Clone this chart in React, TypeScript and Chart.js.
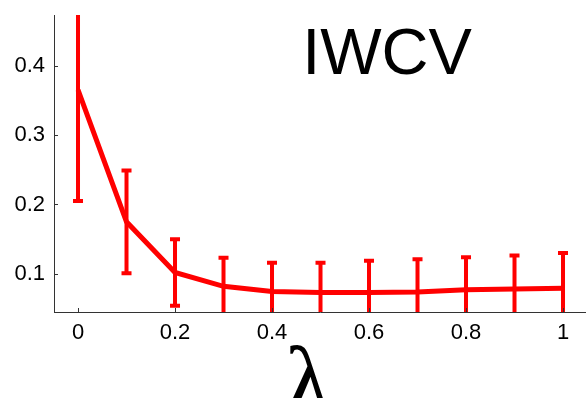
import React, { useEffect, useRef } from 'react';
import { Chart, registerables } from 'chart.js';

Chart.register(...registerables);

// ---- data ----
const lambdas = [0, 0.1, 0.2, 0.3, 0.4, 0.5, 0.6, 0.7, 0.8, 0.9, 1.0];
const means = [0.365, 0.175, 0.102, 0.082, 0.0745, 0.073, 0.073, 0.074, 0.077, 0.078, 0.0794];
const errors = [0.16, 0.074, 0.048, 0.041, 0.0415, 0.043, 0.0457, 0.047, 0.047, 0.0484, 0.0506];
const xTicks = [0, 0.2, 0.4, 0.6, 0.8, 1];
const xTickLabels = ['0', '0.2', '0.4', '0.6', '0.8', '1'];
const yTicks = [0.1, 0.2, 0.3, 0.4];
const yTickLabels = ['0.1', '0.2', '0.3', '0.4'];
const titleText = 'IWCV';
const xLabel = 'λ';

const RED = '#ff0000';
const AXIS = '#333333';
const SANS = '"Liberation Sans", Arial, sans-serif';
const SERIF = '"Liberation Serif", "Times New Roman", serif';

const errorBarPlugin = {
  id: 'errorBars',
  afterDatasetsDraw(chart: any) {
    const { ctx, chartArea, scales } = chart;
    const x = scales.x;
    const y = scales.y;
    ctx.save();
    ctx.beginPath();
    ctx.rect(chartArea.left, chartArea.top, chartArea.right - chartArea.left, chartArea.bottom - chartArea.top);
    ctx.clip();
    ctx.strokeStyle = RED;
    ctx.lineWidth = 4;
    ctx.lineCap = 'butt';
    lambdas.forEach((l, i) => {
      const px = x.getPixelForValue(l);
      const top = y.getPixelForValue(means[i] + errors[i]);
      const bot = y.getPixelForValue(means[i] - errors[i]);
      ctx.beginPath();
      ctx.moveTo(px, top);
      ctx.lineTo(px, bot);
      ctx.moveTo(px - 5, top);
      ctx.lineTo(px + 5, top);
      ctx.moveTo(px - 5, bot);
      ctx.lineTo(px + 5, bot);
      ctx.stroke();
    });
    ctx.restore();
  },
};

const decorPlugin = {
  id: 'decor',
  afterDraw(chart: any) {
    const { ctx, chartArea, scales } = chart;
    const x = scales.x;
    const y = scales.y;
    ctx.save();
    // inward tick marks
    ctx.strokeStyle = AXIS;
    ctx.lineWidth = 1;
    ctx.beginPath();
    yTicks.forEach((v) => {
      const py = Math.round(y.getPixelForValue(v)) + 0.5;
      ctx.moveTo(chartArea.left, py);
      ctx.lineTo(chartArea.left + 4, py);
    });
    xTicks.forEach((v) => {
      const px = Math.round(x.getPixelForValue(v)) + 0.5;
      ctx.moveTo(px, chartArea.bottom);
      ctx.lineTo(px, chartArea.bottom - 4);
    });
    ctx.stroke();
    // title inside plot
    ctx.fillStyle = '#000';
    ctx.textAlign = 'center';
    ctx.textBaseline = 'alphabetic';
    ctx.font = `65px ${SANS}`;
    ctx.fillText(titleText, 387, 74);
    // x-axis label
    ctx.font = `96px ${SERIF}`;
    ctx.fillText(xLabel, 308, 412);
    ctx.restore();
  },
};

export default function App() {
  const ref = useRef<HTMLCanvasElement | null>(null);

  useEffect(() => {
    if (!ref.current) return;
    const chart = new Chart(ref.current, {
      type: 'line',
      data: {
        datasets: [
          {
            data: lambdas.map((l, i) => ({ x: l, y: means[i] })),
            borderColor: RED,
            backgroundColor: RED,
            borderWidth: 5,
            pointRadius: 0,
            tension: 0,
            fill: false,
          },
        ],
      },
      options: {
        animation: false,
        responsive: false,
        events: [],
        layout: { padding: { top: 15, left: 0, right: 0, bottom: 0 } },
        plugins: { legend: { display: false }, tooltip: { enabled: false }, title: { display: false } },
        scales: {
          x: {
            type: 'linear',
            min: -0.0495,
            max: 1.0474,
            afterFit: (s: any) => {
              s.height = 86;
              s.paddingLeft = 0;
              s.paddingRight = 0;
            },
            afterBuildTicks: (s: any) => {
              s.ticks = xTicks.map((v) => ({ value: v }));
            },
            grid: { display: true, drawOnChartArea: false, drawTicks: false },
            border: { display: true, color: AXIS, width: 1 },
            ticks: {
              padding: 8,
              color: '#000',
              font: { family: SANS, size: 22 },
              autoSkip: false,
              maxRotation: 0,
              callback: (_v: any, i: number) => xTickLabels[i],
            },
          },
          y: {
            type: 'linear',
            min: 0.045,
            max: 0.473,
            afterFit: (s: any) => {
              s.width = 54;
              s.paddingTop = 0;
              s.paddingBottom = 0;
            },
            afterBuildTicks: (s: any) => {
              s.ticks = yTicks.map((v) => ({ value: v }));
            },
            grid: { display: true, drawOnChartArea: false, drawTicks: false },
            border: { display: true, color: AXIS, width: 1 },
            ticks: {
              padding: 9,
              color: '#000',
              font: { family: SANS, size: 22 },
              autoSkip: false,
              callback: (_v: any, i: number) => yTickLabels[i],
            },
          },
        },
      },
      plugins: [errorBarPlugin, decorPlugin],
    });
    return () => chart.destroy();
  }, []);

  return (
    <div style={{ position: 'fixed', left: 0, top: 0, width: 586, height: 398, overflow: 'hidden', background: '#fff' }}>
      <canvas ref={ref} width={586} height={398} style={{ display: 'block' }} />
    </div>
  );
}
